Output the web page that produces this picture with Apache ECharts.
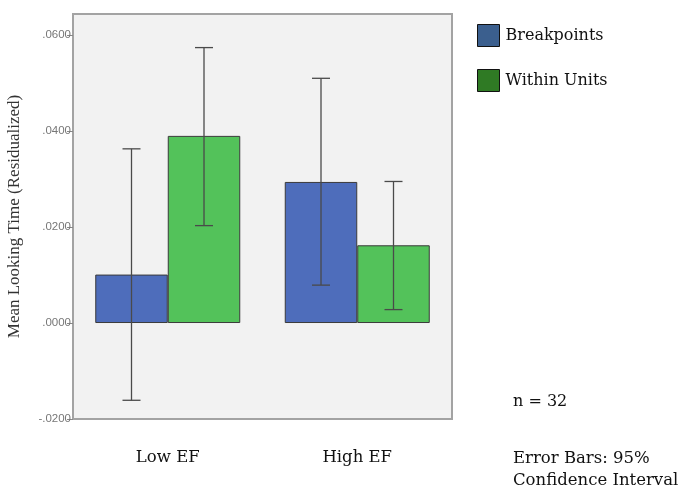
<!DOCTYPE html>
<html>
<head>
<meta charset="utf-8">
<script src="https://cdn.jsdelivr.net/npm/echarts@6/dist/echarts.min.js"></script>
<style>html,body{margin:0;padding:0;background:#fff;}#c{width:685px;height:489px;}</style>
</head>
<body>
<div id="c"></div>
<script>
var categories = ['Low EF', 'High EF'];
var seriesNames = ['Breakpoints', 'Within Units'];
var breakpoints = [0.0101, 0.0294];
var withinUnits = [0.0390, 0.0162];
var breakpointsLow = [-0.0161, 0.0079];
var breakpointsHigh = [0.0363, 0.0510];
var withinLow = [0.0203, 0.0028];
var withinHigh = [0.0574, 0.0295];
var yTicks = [-0.02, 0, 0.02, 0.04, 0.06];

var BAR_W = 72.5;
var serif = '"Liberation Serif", "DejaVu Serif", serif';
var wideSerif = '"DejaVu Serif", serif';

function errSeries(lows, highs, offset) {
  var data = categories.map(function (c, i) { return [i, lows[i], highs[i]]; });
  return {
    type: 'custom',
    silent: true,
    z: 10,
    data: data,
    encode: { x: 0, y: [1, 2] },
    renderItem: function (params, api) {
      var lo = api.coord([api.value(0), api.value(1)]);
      var hi = api.coord([api.value(0), api.value(2)]);
      var x = lo[0] + offset;
      var cap = 9;
      var st = { stroke: '#4a4a4a', lineWidth: 1.3 };
      return {
        type: 'group',
        children: [
          { type: 'line', shape: { x1: x, y1: lo[1], x2: x, y2: hi[1] }, style: st },
          { type: 'line', shape: { x1: x - cap, y1: lo[1], x2: x + cap, y2: lo[1] }, style: st },
          { type: 'line', shape: { x1: x - cap, y1: hi[1], x2: x + cap, y2: hi[1] }, style: st }
        ]
      };
    }
  };
}

var chart = echarts.init(document.getElementById('c'));
chart.setOption({
  animation: false,
  legend: {
    orient: 'vertical',
    left: 477,
    top: 24,
    padding: 0,
    itemWidth: 22,
    itemHeight: 22,
    itemGap: 22,
    icon: 'rect',
    data: [
      { name: seriesNames[0], itemStyle: { color: '#3b5f8e', borderColor: '#111', borderWidth: 1 } },
      { name: seriesNames[1], itemStyle: { color: '#2f7a24', borderColor: '#111', borderWidth: 1 } }
    ],
    textStyle: { fontFamily: wideSerif, fontSize: 16, color: '#111', padding: [0, 0, 0, 1] },
    selectedMode: false
  },
  grid: {
    left: 73, top: 14, width: 379, height: 405,
    outerBoundsMode: 'none',
    containLabel: false,
    show: true, backgroundColor: '#f2f2f2', borderColor: '#a3a3a3', borderWidth: 2
  },
  xAxis: {
    type: 'category',
    data: categories,
    axisLine: { onZero: false, lineStyle: { color: '#a3a3a3', width: 2 } },
    axisTick: { alignWithLabel: true, length: 5, lineStyle: { color: '#888' } },
    axisLabel: { fontFamily: wideSerif, fontSize: 16.5, color: '#111', margin: 30 }
  },
  yAxis: {
    type: 'value',
    min: -0.02,
    max: 0.0644,
    interval: 0.02,
    name: 'Mean Looking Time (Residualized)',
    nameLocation: 'middle',
    nameRotate: 90,
    nameGap: 50,
    nameTextStyle: { fontFamily: serif, fontSize: 17, color: '#333' },
    splitLine: { show: false },
    axisLine: { show: true, lineStyle: { color: '#a3a3a3', width: 2 } },
    axisTick: { show: true, length: 6, customValues: yTicks, lineStyle: { color: '#888' } },
    axisLabel: {
      customValues: yTicks,
      fontFamily: '"Liberation Sans", Arial, sans-serif',
      fontSize: 11.5,
      color: '#777',
      margin: 2,
      formatter: function (v) {
        var s = Math.abs(v).toFixed(4).replace(/^0/, '');
        return (v < 0 ? '-' : '') + s;
      }
    }
  },
  series: [
    {
      name: seriesNames[0], type: 'bar', data: breakpoints, barWidth: BAR_W, barGap: '0%',
      itemStyle: { color: '#4e6dbb', borderColor: '#3a3a3a', borderWidth: 1, opacity: 1 }
    },
    {
      name: seriesNames[1], type: 'bar', data: withinUnits, barWidth: BAR_W, barGap: '0%',
      itemStyle: { color: '#53c25a', borderColor: '#3a3a3a', borderWidth: 1 }
    },
    errSeries(breakpointsLow, breakpointsHigh, -BAR_W / 2),
    errSeries(withinLow, withinHigh, BAR_W / 2)
  ],
  graphic: [
    { type: 'text', left: 513, top: 394, style: { text: 'n = 32', font: '16px ' + wideSerif, fill: '#111' } },
    { type: 'text', left: 513, top: 448, style: { text: 'Error Bars: 95%\nConfidence Interval', font: '16.5px ' + wideSerif, fill: '#111', lineHeight: 22 } }
  ]
});
</script>
</body>
</html>
